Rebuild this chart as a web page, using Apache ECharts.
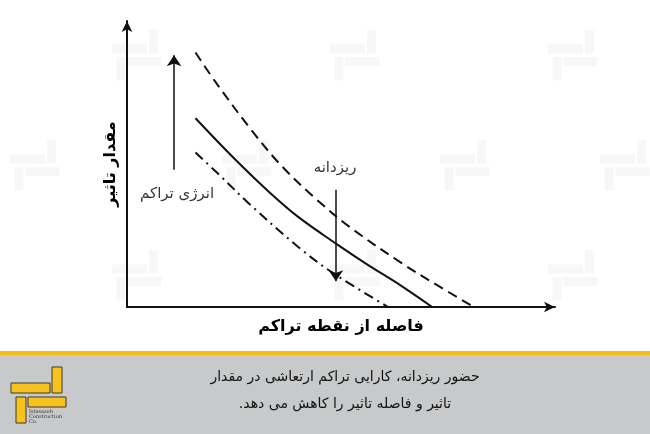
<!DOCTYPE html>
<html><head><meta charset="utf-8">
<script src="https://cdn.jsdelivr.net/npm/echarts@6/dist/echarts.min.js"></script>
<style>html,body{margin:0;padding:0;background:#fff}#c{width:650px;height:434px}</style>
</head><body><div id="c"></div>
<script>
// Curve data (abstract units 0-100)
const dashedX = [16, 21, 29, 36, 44, 52, 64, 71.5, 81];
const dashedY = [89, 78, 62, 49.5, 38, 28, 15.5, 8.5, 0];
const solidX = [16, 25, 33, 40, 49, 56, 64, 71.3];
const solidY = [66, 52, 40.5, 31.5, 22, 15, 7.5, 0];
const dashDotX = [16, 21, 29, 40, 48, 61];
const dashDotY = [54, 47, 35.5, 21, 12, 0];
// Arrows: [x, yStart, yEnd]
const energyArrow = [11, 48, 88];
const fineArrow = [48.8, 41, 9];
const labelTexts = ['انرژی تراکم', 'ریزدانه'];
const labelPos = [[11.7, 39.5], [48.6, 48.6]];
const xName = 'فاصله از نقطه تراکم';
const yName = 'مقدار تاثیر';
const captionLines = ['حضور ریزدانه، کارایی تراکم ارتعاشی در مقدار', 'تاثیر و فاصله تاثیر را کاهش می دهد.'];

const zip = (xs, ys) => xs.map((x, i) => [x, ys[i]]);
const FONT = 'DejaVu Sans';
const RLM = '\u200F';

function logo(x, y, s, fill, stroke, lw) {
  const r = (a, b, w, h) => ({type: 'rect', shape: {x: x + a * s, y: y + b * s, width: w * s, height: h * s},
    style: {fill: fill, stroke: stroke, lineWidth: lw}, silent: true});
  return [r(41, 0, 10, 26), r(0, 16, 39, 10), r(5, 30, 10, 26), r(17, 30, 38, 10)];
}
const wmPos = [[112, 30], [330, 30], [548, 30], [10, 140], [222, 140], [440, 140], [600, 140], [112, 250], [330, 250], [548, 250]];
let graphics = [];
wmPos.forEach(p => { graphics = graphics.concat(logo(p[0], p[1], 0.9, '#f7f7f7', null, 0)); });
graphics.push({type: 'rect', shape: {x: 0, y: 351, width: 650, height: 4}, style: {fill: '#f5bd17'}, silent: true});
graphics.push({type: 'rect', shape: {x: 0, y: 355, width: 650, height: 79}, style: {fill: '#c8c9ca'}, silent: true});
graphics = graphics.concat(logo(11, 367, 1, '#f7c21e', '#3a3a2a', 1));
graphics.push({type: 'text', left: 29, top: 409, style: {text: 'Istasazeh\nConstruction\nCo.', font: '5px "DejaVu Serif"', fill: '#333', lineHeight: 5}, silent: true});
graphics.push({type: 'text', x: 345, y: 377, style: {text: captionLines[0] + RLM, font: '14px "' + FONT + '"', fill: '#111', textAlign: 'center', textVerticalAlign: 'middle'}, silent: true});
graphics.push({type: 'text', x: 345, y: 404, style: {text: captionLines[1] + RLM, font: '14px "' + FONT + '"', fill: '#111', textAlign: 'center', textVerticalAlign: 'middle'}, silent: true});

const chart = echarts.init(document.getElementById('c'), null, {renderer: 'canvas'});
chart.setOption({
  animation: false,
  backgroundColor: '#fff',
  graphic: graphics,
  grid: {left: 127, right: 95, top: 21, bottom: 127},
  xAxis: {type: 'value', min: 0, max: 100, axisLabel: {show: false}, axisTick: {show: false}, splitLine: {show: false},
    axisLine: {show: true, symbol: ['none', 'arrow'], symbolSize: [8, 11], lineStyle: {color: '#111', width: 2}},
    name: xName, nameLocation: 'middle', nameGap: 12,
    nameTextStyle: {fontFamily: FONT, fontSize: 16, fontWeight: 'bold', color: '#000'}},
  yAxis: {type: 'value', min: 0, max: 100, axisLabel: {show: false}, axisTick: {show: false}, splitLine: {show: false},
    axisLine: {show: true, symbol: ['none', 'arrow'], symbolSize: [8, 11], lineStyle: {color: '#111', width: 2}},
    name: yName, nameLocation: 'middle', nameGap: 8, nameRotate: 90,
    nameTextStyle: {fontFamily: FONT, fontSize: 16, fontWeight: 'bold', color: '#000'}},
  series: [
    {type: 'line', data: zip(dashedX, dashedY), smooth: 0.35, showSymbol: false, lineStyle: {color: '#111', width: 2, type: [10, 6]}},
    {type: 'line', data: zip(solidX, solidY), smooth: 0.35, showSymbol: false, lineStyle: {color: '#111', width: 2}},
    {type: 'line', data: zip(dashDotX, dashDotY), smooth: 0.35, showSymbol: false, lineStyle: {color: '#111', width: 2, type: [10, 5, 2, 5]}},
    {type: 'lines', coordinateSystem: 'cartesian2d', symbol: ['none', 'arrow'], symbolSize: [8, 11],
      lineStyle: {color: '#111', width: 1.5, opacity: 1},
      data: [
        {coords: [[energyArrow[0], energyArrow[1]], [energyArrow[0], energyArrow[2]]]},
        {coords: [[fineArrow[0], fineArrow[1]], [fineArrow[0], fineArrow[2]]]}
      ]},
    {type: 'scatter', symbolSize: 0, data: labelPos.map((p, i) => ({value: p, name: labelTexts[i]})),
      label: {show: true, position: 'inside', formatter: '{b}', fontFamily: FONT, fontSize: 15, color: '#000'}}
  ]
});
</script></body></html>
